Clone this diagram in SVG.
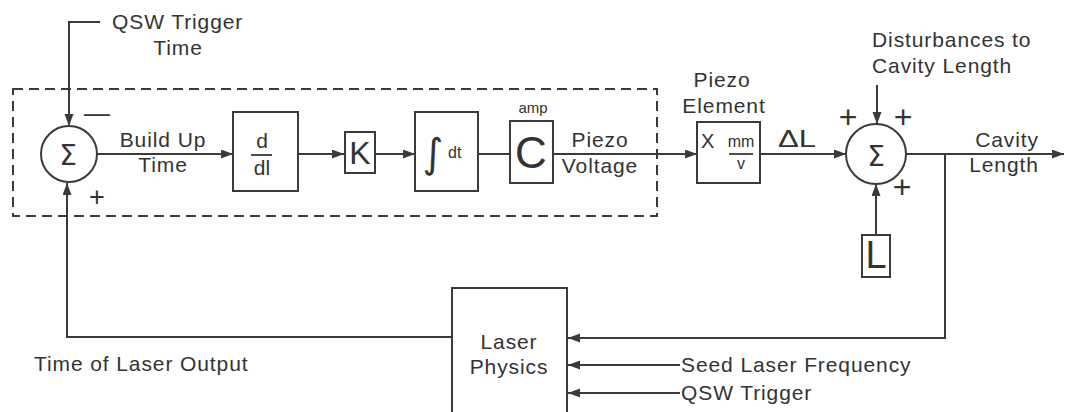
<svg xmlns="http://www.w3.org/2000/svg" width="1065" height="412" viewBox="0 0 1065 412">
<style>
text{font-family:"Liberation Sans",Arial,sans-serif;fill:#333;font-size:21px;letter-spacing:0.9px}
.c{text-anchor:middle}
.s{font-size:15px;letter-spacing:0}
.box{fill:none;stroke:#3a3a3a;stroke-width:2}
.ln{fill:none;stroke:#3a3a3a;stroke-width:2}
.ar{marker-end:url(#ah)}
.sym{font-family:"DejaVu Sans","Liberation Sans",sans-serif;letter-spacing:0}
</style>
<defs>
<marker id="ah" markerUnits="userSpaceOnUse" markerWidth="13" markerHeight="10" refX="12" refY="4.5" orient="auto">
<path d="M0,0 L12,4.5 L0,9 z" fill="#3a3a3a"/>
</marker>
</defs>
<rect width="1065" height="412" fill="#fff"/>
<rect x="13" y="89" width="644" height="127" fill="none" stroke="#3a3a3a" stroke-width="2" stroke-dasharray="10,6"/>

<g id="connectors">
<polyline class="ln ar" points="100,22 69,22 69,126"/>
<line class="ln ar" x1="97" y1="154" x2="233" y2="154"/>
<line class="ln ar" x1="298" y1="154" x2="344" y2="154"/>
<line class="ln ar" x1="375" y1="154" x2="415" y2="154"/>
<line class="ln" x1="478" y1="154" x2="510" y2="154"/>
<line class="ln ar" x1="553" y1="154" x2="697" y2="154"/>
<line class="ln ar" x1="760" y1="154" x2="846" y2="154"/>
<line class="ln ar" x1="877" y1="85" x2="877" y2="124"/>
<line class="ln ar" x1="876" y1="235" x2="876" y2="184"/>
<line class="ln ar" x1="906" y1="154" x2="1064" y2="154"/>
<polyline class="ln ar" points="945,154 945,338 568,338"/>
<line class="ln ar" x1="680" y1="365" x2="568" y2="365"/>
<line class="ln ar" x1="680" y1="393" x2="568" y2="393"/>
<polyline class="ln ar" points="452,337 67,337 67,183"/>
</g>

<g id="sum1">
<circle cx="69" cy="154" r="28" class="box"/>
<text x="68" y="165" class="c sym" style="font-size:28px">Σ</text>
<text x="97" y="122" class="c" style="font-size:26px;letter-spacing:0">—</text>
<text x="97" y="206" class="c" style="font-size:27px;letter-spacing:0">+</text>
</g>
<g id="qsw-time-label">
<text x="112" y="29">QSW Trigger</text>
<text x="178" y="55" class="c">Time</text>
</g>
<g id="buildup-label">
<text x="163" y="147" class="c">Build Up</text>
<text x="163" y="172" class="c">Time</text>
</g>
<g id="ddl">
<rect x="233" y="112" width="65" height="79" class="box"/>
<text x="262" y="148" class="c" style="font-size:21px;letter-spacing:0">d</text>
<line x1="251" y1="155" x2="272" y2="155" stroke="#3a3a3a" stroke-width="1.8"/>
<text x="262" y="175" class="c" style="font-size:21px;letter-spacing:0">dl</text>
</g>
<g id="K">
<rect x="345" y="132" width="30" height="41" class="box"/>
<text x="360" y="164" class="c" style="font-size:32px;letter-spacing:0">K</text>
</g>
<g id="integral">
<rect x="415" y="112" width="63" height="79" class="box"/>
<text x="433" y="167" class="c sym" style="font-size:40px">∫</text>
<text x="448" y="158" style="font-size:16px;letter-spacing:0">dt</text>
</g>
<g id="C">
<rect x="510" y="121" width="43" height="62" class="box"/>
<text x="533" y="113" class="c s">amp</text>
<text x="531" y="168" class="c" style="font-size:44px;letter-spacing:0">C</text>
</g>
<g id="piezo-voltage-label">
<text x="600" y="147" class="c">Piezo</text>
<text x="600" y="173" class="c">Voltage</text>
</g>
<g id="piezo">
<text x="722" y="87" class="c">Piezo</text>
<text x="724" y="113" class="c">Element</text>
<rect x="697" y="122" width="63" height="61" class="box"/>
<text x="701" y="148" style="font-size:20px;letter-spacing:0">X</text>
<text x="741" y="147" class="c" style="font-size:16px;letter-spacing:0">mm</text>
<line x1="729" y1="154" x2="753" y2="154" stroke="#3a3a3a" stroke-width="1.8"/>
<text x="741" y="169" class="c" style="font-size:16px;letter-spacing:0">v</text>
</g>
<g id="dL-label">
<text x="778" y="147" style="font-size:23px;letter-spacing:0" textLength="38" lengthAdjust="spacingAndGlyphs">ΔL</text>
</g>
<g id="sum2">
<circle cx="876" cy="154" r="30" class="box"/>
<text x="876" y="166" class="c sym" style="font-size:28px">Σ</text>
<text x="848" y="128" class="c" style="font-size:32px;letter-spacing:0">+</text>
<text x="903" y="128" class="c" style="font-size:32px;letter-spacing:0">+</text>
<text x="902" y="198" class="c" style="font-size:32px;letter-spacing:0">+</text>
</g>
<g id="disturbances">
<text x="872" y="47">Disturbances to</text>
<text x="872" y="73">Cavity Length</text>
</g>
<g id="L">
<rect x="862" y="235" width="28" height="42" class="box"/>
<text x="876" y="268" class="c" style="font-size:38px;letter-spacing:0">L</text>
</g>
<g id="cavity-label">
<text x="1007" y="147" class="c">Cavity</text>
<text x="1004" y="172" class="c">Length</text>
</g>
<g id="laser-physics">
<rect x="452" y="288" width="115" height="130" class="box"/>
<text x="509" y="349" class="c">Laser</text>
<text x="509" y="374" class="c">Physics</text>
</g>
<g id="time-output-label">
<text x="34" y="371">Time of Laser Output</text>
</g>
<g id="seed-label">
<text x="681" y="372">Seed Laser Frequency</text>
</g>
<g id="qsw-label">
<text x="681" y="400">QSW Trigger</text>
</g>
</svg>
